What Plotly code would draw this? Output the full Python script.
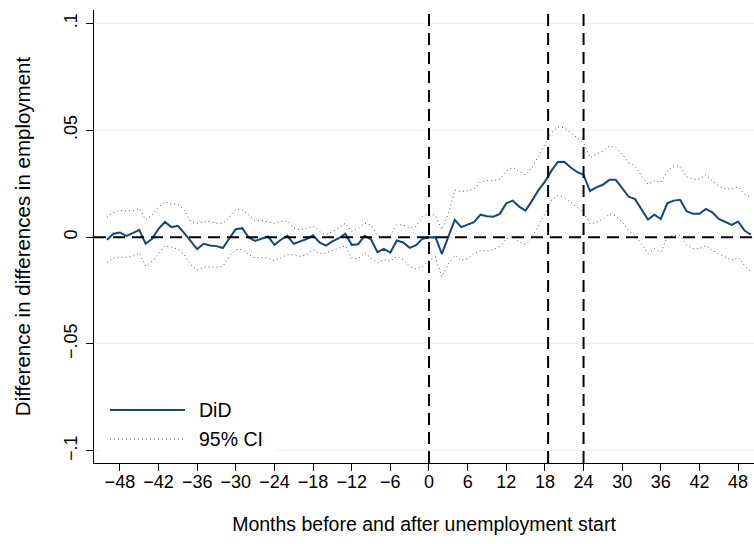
import plotly.graph_objects as go

# ---------------- data ----------------
months = list(range(-50, 51))

did = [
    -0.0012, 0.0016, 0.0022, 0.0006, 0.0019, 0.0034, -0.0031, -0.0008, 0.0039, 0.0071,
    0.0047, 0.0053, 0.0019, -0.0020, -0.0056, -0.0031, -0.0039, -0.0042, -0.0051, -0.0005,
    0.0037, 0.0042, -0.0002, -0.0018, -0.0008, 0.0003, -0.0036, -0.0012, 0.0006, -0.0031,
    -0.0020, -0.0009, 0.0009, -0.0025, -0.0040, -0.0020, -0.0005, 0.0016, -0.0036, -0.0033,
    0.0006, -0.0011, -0.0070, -0.0055, -0.0072, -0.0016, -0.0025, -0.0050, -0.0038, -0.0007,
    -0.0002,
    0.0000, -0.0078, 0.0003, 0.0081, 0.0047, 0.0059, 0.0070, 0.0105, 0.0098, 0.0096,
    0.0109, 0.0158, 0.0171, 0.0143, 0.0124, 0.0171, 0.0220, 0.0260, 0.0310, 0.0352,
    0.0353, 0.0326, 0.0305, 0.0291, 0.0216, 0.0233, 0.0245, 0.0268, 0.0268, 0.0229,
    0.0189, 0.0178, 0.0132, 0.0082, 0.0105, 0.0085, 0.0158, 0.0171, 0.0175, 0.0121,
    0.0109, 0.0109, 0.0132, 0.0116, 0.0085, 0.0070, 0.0057, 0.0073, 0.0031, 0.0011,
]

ci_upper = [
    0.0093, 0.0115, 0.0124, 0.0122, 0.0124, 0.0135, 0.0081, 0.0104, 0.0140, 0.0166,
    0.0155, 0.0155, 0.0127, 0.0073, 0.0065, 0.0073, 0.0073, 0.0065, 0.0065, 0.0093,
    0.0132, 0.0127, 0.0104, 0.0076, 0.0078, 0.0073, 0.0065, 0.0073, 0.0076, 0.0042,
    0.0034, 0.0042, 0.0050, 0.0026, 0.0011, 0.0026, 0.0042, 0.0065, 0.0026, 0.0042,
    0.0065, 0.0057, 0.0006, 0.0003, 0.0006, 0.0057, 0.0057, 0.0042, 0.0050, 0.0096,
    0.0112,
    0.0101, 0.0035, 0.0109, 0.0220, 0.0214, 0.0217, 0.0225, 0.0259, 0.0264, 0.0264,
    0.0271, 0.0310, 0.0326, 0.0307, 0.0291, 0.0326, 0.0380, 0.0434, 0.0488, 0.0515,
    0.0512, 0.0488, 0.0465, 0.0442, 0.0372, 0.0388, 0.0403, 0.0426, 0.0419, 0.0388,
    0.0349, 0.0333, 0.0287, 0.0248, 0.0264, 0.0256, 0.0310, 0.0333, 0.0333, 0.0282,
    0.0271, 0.0271, 0.0291, 0.0264, 0.0240, 0.0225, 0.0225, 0.0236, 0.0202, 0.0186,
]

ci_lower = [
    -0.0118, -0.0098, -0.0093, -0.0095, -0.0090, -0.0074, -0.0136, -0.0113, -0.0078, -0.0040,
    -0.0047, -0.0056, -0.0082, -0.0129, -0.0155, -0.0140, -0.0140, -0.0141, -0.0136, -0.0090,
    -0.0059, -0.0056, -0.0082, -0.0097, -0.0095, -0.0098, -0.0110, -0.0098, -0.0082, -0.0082,
    -0.0090, -0.0082, -0.0059, -0.0078, -0.0074, -0.0062, -0.0051, -0.0040, -0.0098, -0.0102,
    -0.0074, -0.0098, -0.0121, -0.0105, -0.0113, -0.0090, -0.0105, -0.0136, -0.0149, -0.0136,
    -0.0107,
    -0.0093, -0.0186, -0.0124, -0.0085, -0.0109, -0.0101, -0.0078, -0.0062, -0.0065, -0.0059,
    -0.0043, -0.0008, 0.0003, -0.0023, -0.0034, 0.0000, 0.0054, 0.0109, 0.0174, 0.0194,
    0.0186, 0.0163, 0.0143, 0.0117, 0.0062, 0.0070, 0.0085, 0.0109, 0.0101, 0.0070,
    0.0031, 0.0008, -0.0031, -0.0078, -0.0054, -0.0070, 0.0000, 0.0008, 0.0008, -0.0039,
    -0.0054, -0.0054, -0.0039, -0.0062, -0.0078, -0.0093, -0.0109, -0.0093, -0.0132, -0.0163,
]

ref_vlines = [0, 18.5, 24]
ref_hline = 0

x_tickvals = list(range(-48, 49, 6))
x_ticktext = [str(v).replace("-", "\u2212") for v in x_tickvals]
y_tickvals = [-0.1, -0.05, 0, 0.05, 0.1]
y_ticktext = ["\u2212.1", "\u2212.05", "0", ".05", ".1"]

legend_labels = ["DiD", "95% CI"]

# ---------------- style ----------------
NAVY = "#1a476f"
CI_COL = "#555555"
GRID = "#eaf2f3"
FONT = "Liberation Sans, Arial, Helvetica, sans-serif"

W, H = 754, 544
ML, MR, MT, MB = 94, 0, 10, 544 - 463
PW, PH = W - ML - MR, H - MT - MB


def px_to_paper_x(px):
    return (px - ML) / PW


def px_to_paper_y(py):
    return (H - MB - py) / PH


CI_LINE = dict(color=CI_COL, width=1, dash="1px,3px")

fig = go.Figure()

fig.add_trace(go.Scatter(x=months, y=ci_upper, mode="lines", name="95% CI",
                         line=CI_LINE, showlegend=False, hoverinfo="skip"))
fig.add_trace(go.Scatter(x=months, y=ci_lower, mode="lines", name="95% CI",
                         line=CI_LINE, showlegend=False, hoverinfo="skip"))
fig.add_trace(go.Scatter(x=months, y=did, mode="lines", name="DiD",
                         line=dict(color=NAVY, width=2), showlegend=False))

DASH = dict(color="black", width=2, dash="12px,7px")
shapes = []
shapes.append(dict(type="line", xref="paper", yref="y", x0=0, x1=1,
                   y0=ref_hline, y1=ref_hline, layer="above", line=DASH))
for v in ref_vlines:
    shapes.append(dict(type="line", xref="x", yref="paper", x0=v, x1=v,
                       y0=0, y1=1, layer="above", line=DASH))

# manual legend (white box, samples)
shapes.append(dict(type="rect", xref="paper", yref="paper",
                   x0=px_to_paper_x(100), x1=px_to_paper_x(275),
                   y0=px_to_paper_y(458), y1=px_to_paper_y(392),
                   fillcolor="white", line=dict(width=0), layer="above"))
shapes.append(dict(type="line", xref="paper", yref="paper",
                   x0=px_to_paper_x(110), x1=px_to_paper_x(185),
                   y0=px_to_paper_y(410), y1=px_to_paper_y(410), layer="above",
                   line=dict(color=NAVY, width=2)))
shapes.append(dict(type="line", xref="paper", yref="paper",
                   x0=px_to_paper_x(110), x1=px_to_paper_x(185),
                   y0=px_to_paper_y(439), y1=px_to_paper_y(439), layer="above",
                   line=CI_LINE))

annotations = []
for label, py in zip(legend_labels, [410, 439]):
    annotations.append(dict(text=label, xref="paper", yref="paper",
                            x=px_to_paper_x(197), y=px_to_paper_y(py),
                            xanchor="left", yanchor="middle", showarrow=False,
                            font=dict(family=FONT, size=19.5, color="black")))

fig.update_layout(
    width=W, height=H,
    margin=dict(l=ML, r=MR, t=MT, b=MB, pad=0),
    paper_bgcolor="white", plot_bgcolor="white",
    font=dict(family=FONT, size=18, color="black"),
    showlegend=False,
    shapes=shapes,
    annotations=annotations,
    xaxis=dict(
        range=[-52.02, 50.47], tickvals=x_tickvals, ticktext=x_ticktext,
        showgrid=False, zeroline=False, showline=True, linecolor="black", linewidth=1,
        ticks="outside", ticklen=7, tickwidth=1, tickcolor="black",
        tickfont=dict(family=FONT, size=18), ticklabelstandoff=-5,
        title=dict(text="Months before and after unemployment start",
                   font=dict(family=FONT, size=19.5), standoff=26),
    ),
    yaxis=dict(
        range=[-0.1057, 0.1063], tickvals=y_tickvals, ticktext=y_ticktext,
        tickangle=-90,
        showgrid=True, gridcolor=GRID, gridwidth=1, zeroline=False,
        showline=True, linecolor="black", linewidth=1,
        ticks="outside", ticklen=7, tickwidth=1, tickcolor="black",
        tickfont=dict(family=FONT, size=18), ticklabelstandoff=2,
        title=dict(text="Difference in differences in employment",
                   font=dict(family=FONT, size=20.5), standoff=24),
    ),
)

fig.write_html("out.html",
               config={"displayModeBar": False},
               post_script="document.body.style.margin='0';"
                           "document.body.style.overflow='hidden';")
